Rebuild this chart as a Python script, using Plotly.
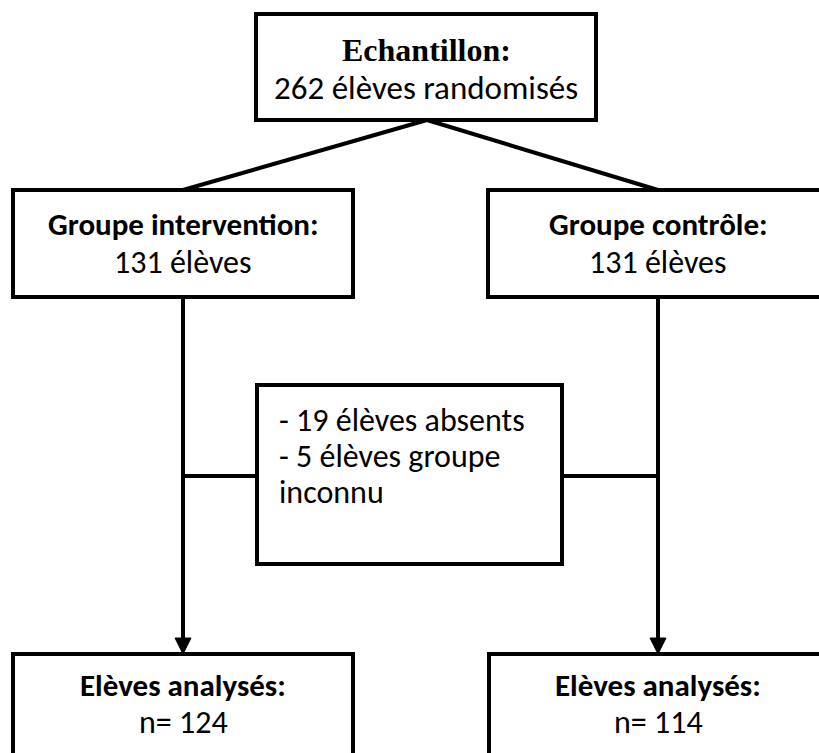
import plotly.graph_objects as go

sample_title = "Echantillon:"
sample_total = 262
group_names = ["Groupe intervention:", "Groupe contrôle:"]
group_counts = [131, 131]
excluded_counts = [19, 5]
excluded_lines = ["- {} élèves absents", "- {} élèves groupe", "inconnu"]
analysed_title = "Elèves analysés:"
analysed_counts = [124, 114]

# ---- layout (pixel positions, y downward) ----
W, H = 819, 753
LW = 4
BODY = "Carlito, Calibri, Lato, sans-serif"
SERIF = "Liberation Serif, Times New Roman, serif"
FS = 32
FSB = 31

top_box = (256, 14, 596, 120)
group_boxes = [(13, 190, 353, 297), (488, 190, 840, 297)]
mid_box = (257, 385, 562, 564)
bottom_boxes = [(13, 654, 353, 780), (489, 654, 840, 780)]
branch_x = [183, 658]
apex = (427, 120)
conn_y = 476
arrow_base = 638

shapes = []
def rect(b):
    shapes.append(dict(type="rect", x0=b[0], y0=b[1], x1=b[2], y1=b[3],
                       line=dict(color="black", width=LW), fillcolor="white", layer="above"))
def line(x0, y0, x1, y1):
    shapes.append(dict(type="line", x0=x0, y0=y0, x1=x1, y1=y1,
                       line=dict(color="black", width=LW), layer="below"))

# connectors
for bx in branch_x:
    line(apex[0], apex[1], bx, 190)
    line(bx, 297, bx, arrow_base)
    shapes.append(dict(type="path",
                       path=f"M {bx-8},{arrow_base} L {bx+8},{arrow_base} L {bx},{654} Z",
                       fillcolor="black", line=dict(color="black", width=1), layer="above"))
line(branch_x[0], conn_y, mid_box[0], conn_y)
line(mid_box[2], conn_y, branch_x[1], conn_y)

rect(top_box)
for b in group_boxes:
    rect(b)
rect(mid_box)
for b in bottom_boxes:
    rect(b)

ann = []
def text(x, y, t, bold=False, family=BODY, size=FS, xanchor="center"):
    ann.append(dict(x=x, y=y, xref="x", yref="y", text=f"<b>{t}</b>" if bold else t,
                    showarrow=False, xanchor=xanchor, yanchor="middle",
                    font=dict(family=family, size=size, color="black")))

text(426, 50, sample_title, bold=True, family=SERIF, size=32)
text(426, 88, f"{sample_total} élèves randomisés", size=33)

centers = [183, 658]
for cx, name, n in zip(centers, group_names, group_counts):
    text(cx, 224, name, bold=True, size=FSB)
    text(cx, 262, f"{n} élèves")

mid_texts = [excluded_lines[0].format(excluded_counts[0]),
             excluded_lines[1].format(excluded_counts[1]),
             excluded_lines[2]]
for i, t in enumerate(mid_texts):
    text(277, 420 + i * 36, t, xanchor="left")

for cx, n in zip(centers, analysed_counts):
    text(cx, 685, analysed_title, bold=True, size=FSB)
    text(cx, 722, f"n= {n}")

fig = go.Figure(go.Scatter(x=[0], y=[0], mode="markers", marker=dict(opacity=0),
                           hoverinfo="skip", showlegend=False))
fig.update_layout(
    width=W, height=H, margin=dict(l=0, r=0, t=0, b=0),
    paper_bgcolor="white", plot_bgcolor="white",
    xaxis=dict(range=[0, W], visible=False, fixedrange=True),
    yaxis=dict(range=[H, 0], visible=False, fixedrange=True),
    shapes=shapes, annotations=ann, showlegend=False,
)
fig.write_html("out.html", config={"displayModeBar": False},
               post_script="document.body.style.margin='0';document.body.style.overflow='hidden';")
